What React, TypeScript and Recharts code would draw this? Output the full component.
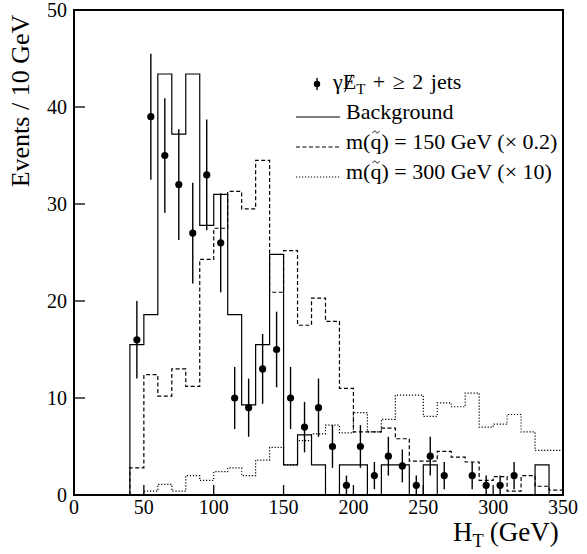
import React from "react";
import { ComposedChart, Line, Scatter, ErrorBar, XAxis, YAxis, ReferenceArea } from "recharts";

// lower edges of the 10 GeV bins
const binLow = [40, 50, 60, 70, 80, 90, 100, 110, 120, 130, 140, 150, 160, 170, 180, 190, 200, 210, 220, 230, 240, 250, 260, 270, 280, 290, 300, 310, 320, 330, 340];
const xMax = 350;

const background = [15.5, 18.6, 43.4, 37.2, 43.4, 27.8, 31.0, 18.6, 9.3, 15.5, 24.8, 3.1, 6.2, 3.1, 0, 3.1, 3.1, 0, 3.1, 3.1, 0, 3.1, 0, 0, 0, 0, 0, 0, 0, 3.1, 0];
const squark150 = [2.8, 12.4, 10.2, 13.0, 11.2, 24.3, 27.5, 31.3, 29.5, 34.5, 20.9, 25.2, 17.5, 20.3, 17.9, 11.0, 6.5, 6.5, 6.9, 5.8, 3.5, 3.5, 4.5, 3.9, 3.4, 1.5, 1.9, 0.4, 2.0, 0.9, 0.5];
const squark300 = [0, 0.4, 1.1, 0.4, 2.0, 1.5, 2.4, 2.8, 2.0, 3.6, 4.9, 3.1, 5.6, 6.3, 7.2, 6.4, 8.5, 6.5, 7.8, 10.3, 10.3, 8.1, 9.5, 9.1, 10.5, 7.0, 7.3, 8.3, 6.5, 4.6, 4.6];

// observed events (bin centres, counts, error bar half lengths)
const centers = [45, 55, 65, 75, 85, 95, 105, 115, 125, 135, 145, 155, 165, 175, 185, 195, 205, 215, 225, 235, 245, 255, 265, 285, 295, 305, 315];
const counts = [16, 39, 35, 32, 27, 33, 26, 10, 9, 13, 15, 10, 7, 9, 5, 1, 5, 2, 4, 3, 1, 4, 2, 2, 1, 1, 2];
const errors = [4.0, 6.5, 5.9, 5.7, 5.2, 5.7, 5.1, 3.2, 3.0, 3.6, 3.9, 3.2, 2.6, 3.0, 2.2, 1.0, 2.2, 1.4, 2.0, 1.7, 1.0, 2.0, 1.4, 1.4, 1.0, 1.0, 1.4];

const xTicks = [0, 50, 100, 150, 200, 250, 300, 350];
const yTicks = [0, 10, 20, 30, 40, 50];

const FONT = '"Liberation Serif", "Times New Roman", serif';

const toSteps = (vals: number[]) => [
  { x: binLow[0], y: 0 },
  ...binLow.map((x, i) => ({ x, y: vals[i] })),
  { x: xMax, y: vals[vals.length - 1] },
];

const dataPoints = centers.map((x, i) => ({ x, y: counts[i], err: errors[i] }));

const XTick = ({ x, y, payload }: any) => (
  <g>
    <line x1={x} y1={y} x2={x} y2={y - 10} stroke="#000" strokeWidth={1.3} />
    <text x={x} y={y + 19} textAnchor="middle" fontSize={20} fontFamily={FONT} fill="#000">
      {payload.value}
    </text>
  </g>
);

const YTick = ({ x, y, payload }: any) => (
  <g>
    <line x1={x} y1={y} x2={x + 11} y2={y} stroke="#000" strokeWidth={1.3} />
    <text x={x - 7} y={y} dy="0.35em" textAnchor="end" fontSize={20} fontFamily={FONT} fill="#000">
      {payload.value}
    </text>
  </g>
);

const Dot = (p: any) => <circle cx={p.cx} cy={p.cy} r={3.6} fill="#000" />;

// E with a slash through it (missing transverse energy)
const Slashed = ({ children }: { children: React.ReactNode }) => (
  <span style={{ position: "relative", display: "inline-block" }}>
    {children}
    <span
      style={{
        position: "absolute",
        left: "38%",
        top: "0.2em",
        width: 1.3,
        height: "0.85em",
        background: "#000",
        transform: "rotate(24deg)",
      }}
    />
  </span>
);

// q with a tilde drawn above it
const Squark = () => (
  <span style={{ position: "relative", display: "inline-block" }}>
    q
    <svg
      width={8}
      height={4}
      viewBox="0 0 8 4"
      style={{ position: "absolute", left: 2, top: 0, overflow: "visible" }}
    >
      <path d="M0.5 3 C2 0.5, 3.5 0.5, 4 2 S6 3.5, 7.5 1" fill="none" stroke="#000" strokeWidth={0.9} />
    </svg>
  </span>
);

const sub = { fontSize: "0.68em", verticalAlign: "-0.35em" } as React.CSSProperties;

const legendRows = [84, 114, 144, 174];

const rowStyle = (left: number, y: number): React.CSSProperties => ({
  position: "absolute",
  left,
  top: y - 14,
  fontSize: 22,
  whiteSpace: "nowrap",
  lineHeight: "24px",
});

const LegendBox = () => (
  <div style={{ position: "absolute", left: 0, top: 0, pointerEvents: "none" }}>
    <svg width={587} height={200} style={{ position: "absolute", left: 0, top: 0 }}>
      <line x1={317} y1={legendRows[0] - 6} x2={317} y2={legendRows[0] + 6} stroke="#000" strokeWidth={1.4} />
      <circle cx={317} cy={legendRows[0]} r={3.2} fill="#000" />
      <line x1={296} y1={legendRows[1] + 3} x2={340} y2={legendRows[1] + 3} stroke="#000" strokeWidth={1.2} />
      <line x1={296} y1={legendRows[2] + 3} x2={340} y2={legendRows[2] + 3} stroke="#000" strokeWidth={1.2} strokeDasharray="4 2.5" />
      <line x1={296} y1={legendRows[3] + 3} x2={340} y2={legendRows[3] + 3} stroke="#000" strokeWidth={1.2} strokeDasharray="1.2 1.8" />
    </svg>
    <div style={{ ...rowStyle(333, legendRows[0]), wordSpacing: 2 }}>
      γ<Slashed>E</Slashed><span style={sub}>T</span> + ≥ 2 jets
    </div>
    <div style={rowStyle(346, legendRows[1])}>Background</div>
    <div style={rowStyle(346, legendRows[2])}>
      m(<Squark />) = 150 GeV (× 0.2)
    </div>
    <div style={rowStyle(346, legendRows[3])}>
      m(<Squark />) = 300 GeV (× 10)
    </div>
  </div>
);

export default function App() {
  return (
    <div style={{ position: "absolute", left: 0, top: 0, width: 587, height: 554, background: "#fff", fontFamily: FONT, color: "#000" }}>
      <ComposedChart width={587} height={554} margin={{ top: 10, right: 24, bottom: 29, left: 14 }}>
        <XAxis
          type="number"
          dataKey="x"
          domain={[0, 350]}
          ticks={xTicks}
          allowDataOverflow
          height={30}
          tickSize={0}
          tickMargin={0}
          tick={<XTick />}
          axisLine={{ stroke: "#000", strokeWidth: 2 }}
          interval={0}
        />
        <YAxis
          type="number"
          dataKey="y"
          domain={[0, 50]}
          ticks={yTicks}
          allowDataOverflow
          width={60}
          tickSize={0}
          tickMargin={0}
          tick={<YTick />}
          axisLine={{ stroke: "#000", strokeWidth: 2 }}
          interval={0}
        />
        <ReferenceArea x1={0} x2={350} y1={0} y2={50} fill="none" stroke="#000" strokeWidth={2} />
        <Line data={toSteps(squark300)} dataKey="y" type="stepAfter" stroke="#000" strokeWidth={1.2} strokeDasharray="1.2 1.8" dot={false} isAnimationActive={false} />
        <Line data={toSteps(squark150)} dataKey="y" type="stepAfter" stroke="#000" strokeWidth={1.2} strokeDasharray="4 2.5" dot={false} isAnimationActive={false} />
        <Line data={toSteps(background)} dataKey="y" type="stepAfter" stroke="#000" strokeWidth={1.2} dot={false} isAnimationActive={false} />
        <Scatter data={dataPoints} dataKey="y" shape={<Dot />} isAnimationActive={false}>
          <ErrorBar dataKey="err" direction="y" width={0} stroke="#000" strokeWidth={1.4} />
        </Scatter>
      </ComposedChart>
      <LegendBox />
      <div
        style={{
          position: "absolute",
          left: 21,
          top: 101,
          transform: "translate(-50%, -50%) rotate(-90deg)",
          fontSize: 26,
          whiteSpace: "nowrap",
        }}
      >
        Events / 10 GeV
      </div>
      <div style={{ position: "absolute", left: 453, top: 517, fontSize: 27, lineHeight: "30px", whiteSpace: "nowrap" }}>
        H<span style={{ ...sub, marginRight: 6 }}>T</span>(GeV)
      </div>
    </div>
  );
}
